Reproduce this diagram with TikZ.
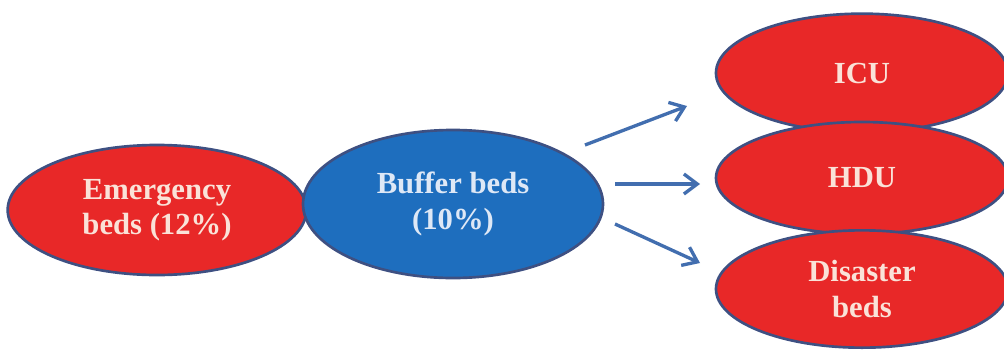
\documentclass[tikz,border=0pt]{standalone}
\usepackage{fontspec}
\setmainfont{Liberation Serif}
\usetikzlibrary{shapes.geometric,arrows.meta}
\definecolor{redfill}{RGB}{232,40,40}
\definecolor{bluefill}{RGB}{30,110,190}
\definecolor{outl}{RGB}{62,80,130}
\definecolor{arrowc}{RGB}{66,110,175}
\definecolor{txtred}{RGB}{250,226,216}
\definecolor{txtblue}{RGB}{222,232,246}
\tikzset{
  bub/.style={ellipse, draw=outl, line width=2pt, inner sep=0pt,
    font=\fontsize{23}{26.5}\selectfont\bfseries, align=center},
  redbub/.style={bub, fill=redfill, text=txtred},
  bluebub/.style={bub, fill=bluefill, text=txtblue},
  arr/.style={draw=arrowc, line width=2.5pt, -{Straight Barb[length=10pt,width=15pt]}}
}
\begin{document}
\begin{tikzpicture}[x=0.75pt,y=-0.75pt]
\useasboundingbox (0,0) rectangle (1004,354);
\node[redbub, minimum width=224pt, minimum height=97.5pt] (emer) at (157,210) {Emergency\\beds (12\%)};
\node[bluebub, minimum width=225pt, minimum height=111pt] (buf) at (453,204) {Buffer beds\\(10\%)};
\node[redbub, minimum width=219pt, minimum height=89pt] (icu) at (862,73) {ICU};
\node[redbub, minimum width=219pt, minimum height=84pt] (hdu) at (862,178) {HDU};
\node[redbub, minimum width=219pt, minimum height=88pt] (dis) at (862,289) {Disaster\\beds};
\coordinate (a1s) at (585,145);
\coordinate (a1e) at (687,106);
\coordinate (a2s) at (615,184);
\coordinate (a2e) at (700,184);
\coordinate (a3s) at (615,224);
\coordinate (a3e) at (700,263);
\draw[arr] (a1s) -- (a1e);
\draw[arr] (a2s) -- (a2e);
\draw[arr] (a3s) -- (a3e);
\end{tikzpicture}
\end{document}
